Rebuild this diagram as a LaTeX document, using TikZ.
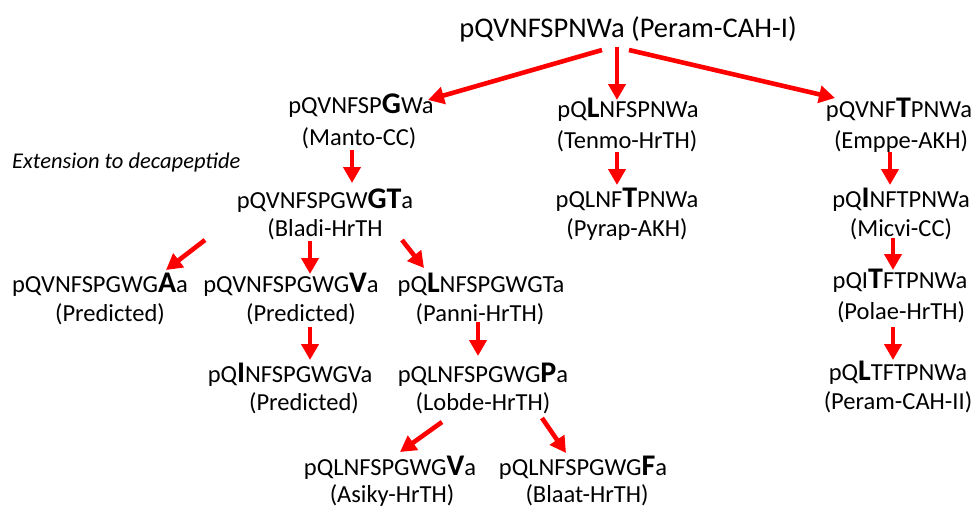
\documentclass[tikz,border=0pt]{standalone}
\usepackage{fontspec}
\setmainfont{Carlito}
\usetikzlibrary{arrows.meta,calc}
\newcommand{\Bd}[1]{{\fontsize{30}{30}\selectfont\bfseries #1}}
\tikzset{
  seq/.style={inner sep=0pt, anchor=base, font=\fontsize{24.5}{28}\selectfont},
  lbl/.style={inner sep=0pt, anchor=base, font=\fontsize{24.5}{28}\selectfont},
  arr/.style={draw=red, line width=4.6pt, -{Triangle[length=16pt,width=17pt]}, red},
}
\begin{document}
\begin{tikzpicture}[x=1pt,y=-1pt]
\useasboundingbox (0,0) rectangle (973,507);
% nodes
\node[seq, font=\fontsize{28.5}{32}\selectfont] (top) at (628,37) {pQVNFSPNWa (Peram-CAH-I)};
\node[seq] (manto) at (361,113) {pQVNFSP\Bd{G}Wa};
\node[lbl] (mantoL) at (359,145) {(Manto-CC)};
\node[inner sep=0pt, anchor=base west, font=\fontsize{22.5}{26}\selectfont\itshape] (ext) at (12,168) {Extension to decapeptide};
\node[seq] (bladi) at (325,208) {pQVNFSPGW\Bd{GT}a};
\node[lbl] (bladiL) at (325,236) {(Bladi-HrTH};
\node[seq] (tenmo) at (628,117) {pQ\Bd{L}NFSPNWa};
\node[lbl] (tenmoL) at (627,148) {(Tenmo-HrTH)};
\node[seq] (pyrap) at (627,207) {pQLNF\Bd{T}PNWa};
\node[lbl] (pyrapL) at (627,236) {(Pyrap-AKH)};
\node[seq] (emppe) at (899,117) {pQVNF\Bd{T}PNWa};
\node[lbl] (emppeL) at (901,148) {(Emppe-AKH)};
\node[seq] (micvi) at (901,207) {pQ\Bd{I}NFTPNWa};
\node[lbl] (micviL) at (901,236) {(Micvi-CC)};
\node[seq] (predA) at (100,292) {pQVNFSPGWG\Bd{A}a};
\node[lbl] (predAL) at (110,321) {(Predicted)};
\node[seq] (predV) at (291,292) {pQVNFSPGWG\Bd{V}a};
\node[lbl] (predVL) at (301,321) {(Predicted)};
\node[seq] (panni) at (481,292) {pQ\Bd{L}NFSPGWGTa};
\node[lbl] (panniL) at (480,321) {(Panni-HrTH)};
\node[seq] (predI) at (290,382) {pQ\Bd{I}NFSPGWGVa};
\node[lbl] (predIL) at (304,410) {(Predicted)};
\node[seq] (lobde) at (483,382) {pQLNFSPGWG\Bd{P}a};
\node[lbl] (lobdeL) at (483,410) {(Lobde-HrTH)};
\node[seq] (polae) at (900,288) {pQI\Bd{T}FTPNWa};
\node[lbl] (polaeL) at (901,319) {(Polae-HrTH)};
\node[seq] (peram2) at (898,380) {pQ\Bd{L}TFTPNWa};
\node[lbl] (peram2L) at (898,409) {(Peram-CAH-II)};
\node[seq] (asiky) at (390,475) {pQLNFSPGWG\Bd{V}a};
\node[lbl] (asikyL) at (392,502) {(Asiky-HrTH)};
\node[seq] (blaat) at (583,475) {pQLNFSPGWG\Bd{F}a};
\node[lbl] (blaatL) at (587,502) {(Blaat-HrTH)};
% arrows
\draw[arr] ($(top.base)+(-26,13)$) -- ($(manto.base)+(67,-13)$);
\draw[arr] ($(top.base)+(-11,10)$) -- ($(tenmo.base)+(-11,-17)$);
\draw[arr] ($(top.base)+(1,13)$) -- ($(emppe.base)+(-64,-19)$);
\draw[arr] ($(mantoL.base)+(-7,5)$) -- ($(bladi.base)+(27,-25)$);
\draw[arr] ($(tenmoL.base)+(-10,4)$) -- ($(pyrap.base)+(-10,-22)$);
\draw[arr] ($(emppeL.base)+(-11,4)$) -- ($(micvi.base)+(-11,-22)$);
\draw[arr] ($(bladiL.base)+(-120,4)$) -- ($(predA.base)+(66,-22)$);
\draw[arr] ($(bladiL.base)+(-15,5)$) -- ($(predV.base)+(19,-18)$);
\draw[arr] ($(bladiL.base)+(77,4)$) -- ($(panni.base)+(-57,-24)$);
\draw[arr] ($(predVL.base)+(9,6)$) -- ($(predI.base)+(20,-22)$);
\draw[arr] ($(panniL.base)+(-2,1)$) -- ($(lobde.base)+(-5,-26)$);
\draw[arr] ($(micviL.base)+(-8,2)$) -- ($(polae.base)+(-7,-18)$);
\draw[arr] ($(polaeL.base)+(-8,8)$) -- ($(peram2.base)+(-5,-20)$);
\draw[arr] ($(lobdeL.base)+(-41,12)$) -- ($(asiky.base)+(10,-23)$);
\draw[arr] ($(lobdeL.base)+(59,8)$) -- ($(blaat.base)+(-17,-22)$);
\end{tikzpicture}
\end{document}
